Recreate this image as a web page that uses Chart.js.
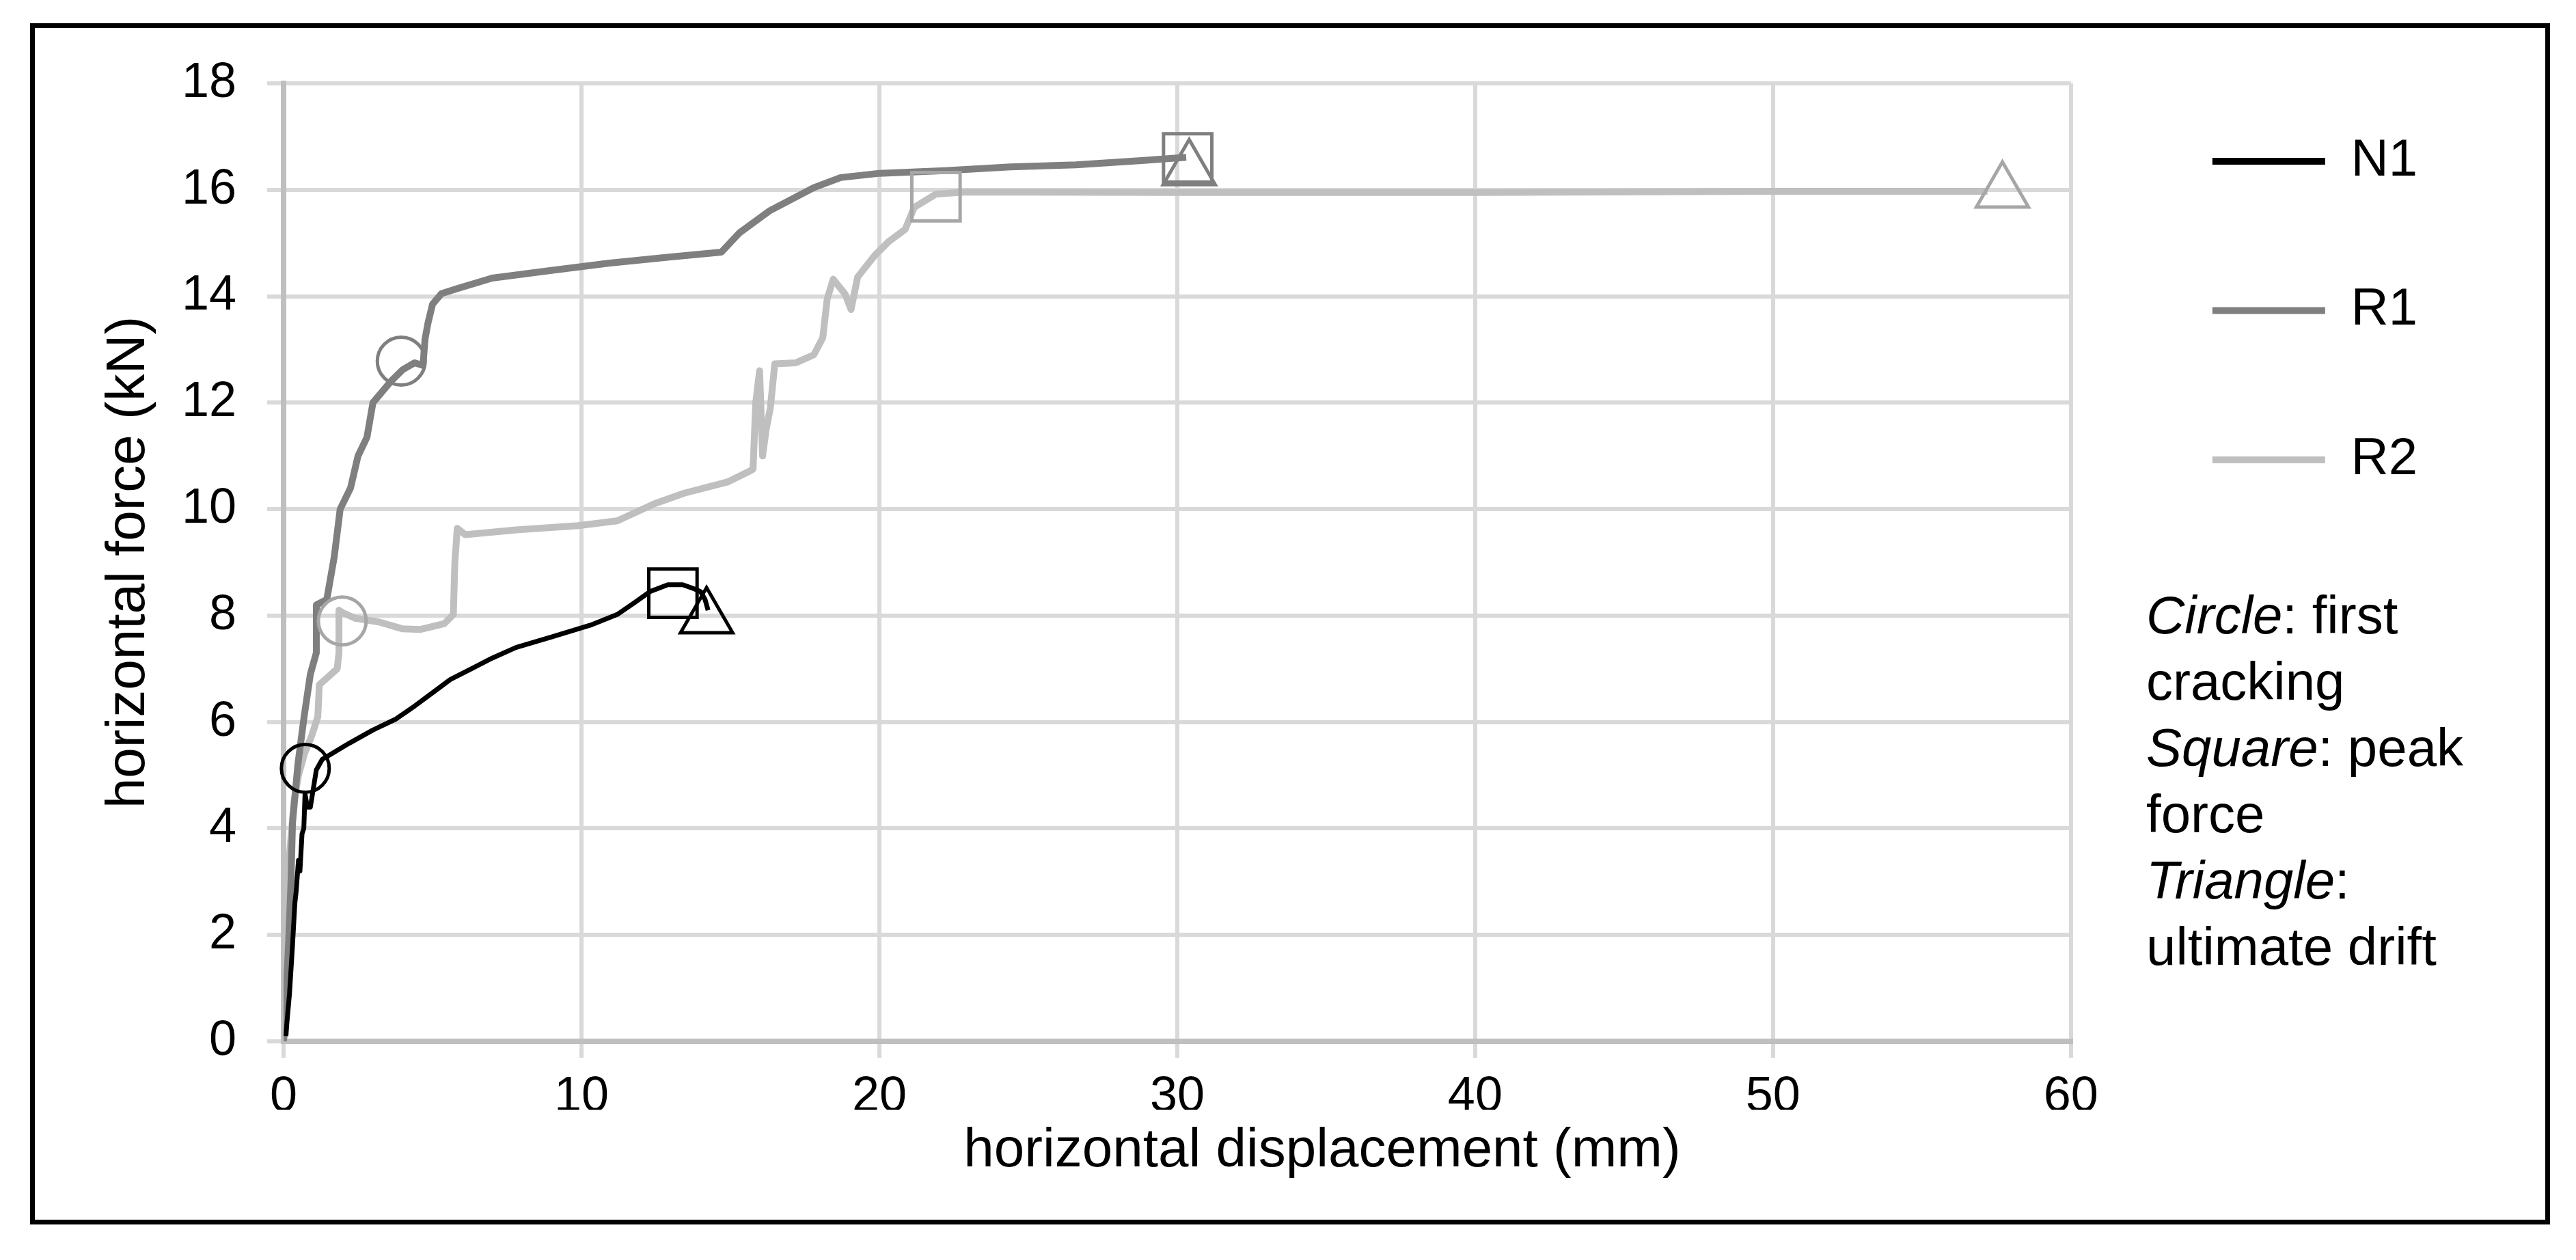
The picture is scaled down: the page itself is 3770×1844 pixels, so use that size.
<!DOCTYPE html>
<html lang="en">

<head>
    <meta charset="UTF-8">
    <title>Horizontal force - displacement</title>
    <script src="https://cdn.jsdelivr.net/npm/chart.js@4.4.1/dist/chart.umd.min.js"></script>
    <style>
        body { margin: 0; background: #fff; overflow: hidden; }
        #chart { position: absolute; left: 0; top: 0; display: block; }
        #frame {
            position: absolute; left: 44px; top: 34px; width: 3688px; height: 1758px;
            border: 7px solid #000; box-sizing: border-box; pointer-events: none;
        }
        #note {
            position: absolute; left: 3141px; top: 852px; color: #000; white-space: nowrap;
            font: 78px/97px "Liberation Sans", Arial, sans-serif;
        }
    </style>
</head>

<body>
    <canvas id="chart" width="3770" height="1844"></canvas>
    <div id="frame"></div>
    <div id="note"><i>Circle</i>: first<br>cracking<br><i>Square</i>: peak<br>force<br><i>Triangle</i>:<br>ultimate drift</div>
    <script>
        // curves (displacement in mm, force in kN)
        const n1X = [0.08, 0.11, 0.2, 0.3, 0.38, 0.42, 0.5, 0.55, 0.62, 0.68, 0.72, 0.8, 0.9, 1.0, 1.1, 1.3, 1.6, 2.2, 3.0, 3.75,
            4.4, 5.0, 5.6, 6.3, 7.0, 7.8, 9.0, 10.3, 11.2, 11.8, 12.3, 12.9, 13.4, 13.8, 14.0, 14.15, 14.25];
        const n1Y = [0.1, 0.33, 0.9, 1.8, 2.6, 2.8, 3.4, 3.2, 3.9, 4.0, 4.65, 4.4, 4.4, 4.75, 5.1, 5.3, 5.4, 5.6, 5.85, 6.05,
            6.3, 6.55, 6.8, 7.0, 7.2, 7.4, 7.6, 7.82, 8.02, 8.25, 8.45, 8.58, 8.58, 8.5, 8.45, 8.3, 8.1];

        const r1X = [0, 0.1, 0.18, 0.25, 0.3, 0.48, 0.69, 0.9, 1.1, 1.1, 1.45, 1.7, 1.9, 2.25, 2.5, 2.8, 3.0, 3.3, 3.6, 4.0,
            4.4, 4.68, 4.75, 4.85, 5.0, 5.3, 5.8, 7.0, 8.9, 10.9, 13.0, 14.7, 15.3, 16.3, 17.8, 18.7, 20.0, 22.2, 24.4, 26.6, 28.8, 30.3];
        const r1Y = [0, 1.0, 2.0, 3.0, 4.1, 5.2, 6.1, 6.9, 7.3, 8.2, 8.3, 9.1, 10.0, 10.4, 11.0, 11.35, 12.0, 12.2, 12.4, 12.62,
            12.75, 12.7, 13.2, 13.5, 13.85, 14.05, 14.14, 14.34, 14.48, 14.62, 14.74, 14.83, 15.19, 15.6, 16.04, 16.23, 16.31, 16.36, 16.43, 16.47, 16.55, 16.61];

        const r2X = [0, 0.05, 0.1, 0.2, 0.35, 0.5, 0.7, 0.95, 1.15, 1.2, 1.5, 1.8, 1.86, 1.86, 2.0, 2.4, 3.2, 4.0, 4.6, 5.4,
            5.7, 5.75, 5.83, 6.1, 7.8, 9.9, 11.2, 12.45, 13.45, 14.9, 15.6, 15.76, 15.85, 15.98, 16.08, 16.2, 16.34, 16.49, 17.2, 17.8,
            18.1, 18.25, 18.45, 18.85, 19.05, 19.27, 19.85, 20.3, 20.87, 21.17, 21.9, 22.9, 30, 40, 50, 57.2];
        const r2Y = [0, 0.5, 2.0, 3.5, 4.5, 5.0, 5.4, 5.75, 6.1, 6.7, 6.85, 7.0, 7.3, 8.1, 8.05, 7.95, 7.88, 7.75, 7.74, 7.85,
            8.02, 9.0, 9.64, 9.52, 9.61, 9.69, 9.78, 10.1, 10.3, 10.51, 10.7, 10.75, 12.0, 12.6, 11.0, 11.5, 11.9, 12.73, 12.75, 12.9,
            13.22, 13.95, 14.32, 14.04, 13.75, 14.36, 14.77, 15.02, 15.26, 15.67, 15.92, 15.96, 15.95, 15.95, 15.97, 15.97];

        // markers, one value per specimen (N1, R1, R2)
        const crackX = [0.73, 3.95, 1.97];
        const crackY = [5.13, 12.78, 7.9];
        const peakX = [13.07, 30.35, 21.9];
        const peakY = [8.42, 16.6, 15.87];
        const driftX = [14.2, 30.4, 57.7];
        const driftY = [7.96, 16.38, 15.96];
        const markerColors = ['#000000', '#7f7f7f', '#a6a6a6'];

        Chart.defaults.font.family = '"Liberation Sans", Arial, sans-serif';
        Chart.defaults.color = '#000';

        function pts(xs, ys) {
            return xs.map((x, i) => ({ x: x, y: ys[i] }));
        }

        function curve(label, xs, ys, color, width) {
            return {
                label: label, data: pts(xs, ys), showLine: true,
                borderColor: color, backgroundColor: color, borderWidth: width,
                borderJoinStyle: 'round', pointRadius: 0, tension: 0
            };
        }

        function marker(label, xs, ys, style, radius) {
            return {
                label: label, data: pts(xs, ys), showLine: false,
                pointStyle: style, pointRadius: radius, pointBorderWidth: 5,
                pointBorderColor: markerColors, pointBackgroundColor: 'rgba(0,0,0,0)',
                order: -1, clip: false
            };
        }

        // empty axis used only to reserve room in the layout
        function spacer(position, size, weight) {
            return {
                type: 'linear', position: position, weight: weight || 0,
                grid: { display: false }, border: { display: false }, ticks: { display: false },
                afterFit: s => { if (s.isHorizontal()) s.height = size; else s.width = size; }
            };
        }

        const gridStyle = { color: '#d9d9d9', lineWidth: 6, tickLength: 24, tickColor: '#d9d9d9', tickWidth: 6 };
        const axisStyle = { color: '#bfbfbf', width: 8 };

        new Chart(document.getElementById('chart'), {
            type: 'scatter',
            data: {
                datasets: [
                    curve('N1', n1X, n1Y, '#000000', 7),
                    curve('R1', r1X, r1Y, '#7f7f7f', 10),
                    curve('R2', r2X, r2Y, '#bfbfbf', 10),
                    marker('first cracking', crackX, crackY, 'circle', 35),
                    marker('peak force', peakX, peakY, 'rect', 50),
                    marker('ultimate drift', driftX, driftY, 'triangle', 44)
                ]
            },
            options: {
                responsive: false,
                animation: false,
                layout: { padding: { left: 100, right: 0, top: 55.5, bottom: 111 } },
                plugins: {
                    tooltip: { enabled: false },
                    title: {
                        display: true, position: 'bottom', text: 'horizontal displacement (mm)',
                        color: '#000', font: { size: 80, weight: 'normal' }, padding: { top: 13, bottom: 0 }
                    },
                    legend: {
                        position: 'right', align: 'start', maxWidth: 800,
                        labels: {
                            usePointStyle: true, pointStyle: 'line', pointStyleWidth: 165,
                            padding: 142.5, color: '#000', font: { size: 76 },
                            generateLabels: chart => Chart.defaults.plugins.legend.labels.generateLabels(chart)
                                .filter(item => item.datasetIndex < 3)
                                .map(item => Object.assign(item, { lineWidth: 10 }))
                        }
                    }
                },
                scales: {
                    x: {
                        type: 'linear', min: 0, max: 60,
                        ticks: { stepSize: 10, font: { size: 72 }, padding: 15 },
                        grid: gridStyle, border: axisStyle,
                        afterFit: s => { s.height = 100; }
                    },
                    y: {
                        type: 'linear', min: 0, max: 18,
                        ticks: { stepSize: 2, font: { size: 72 }, padding: 45 },
                        grid: gridStyle, border: axisStyle,
                        title: {
                            display: true, text: 'horizontal force (kN)', font: { size: 80 },
                            padding: { top: 41, bottom: 0 }
                        },
                        afterFit: s => { s.width = 315; }
                    },
                    padTop: spacer('top', 66.5),
                    gapRight: spacer('right', 64.5),
                    padRight: spacer('right', 222, 2000)
                }
            }
        });
    </script>
</body>

</html>
